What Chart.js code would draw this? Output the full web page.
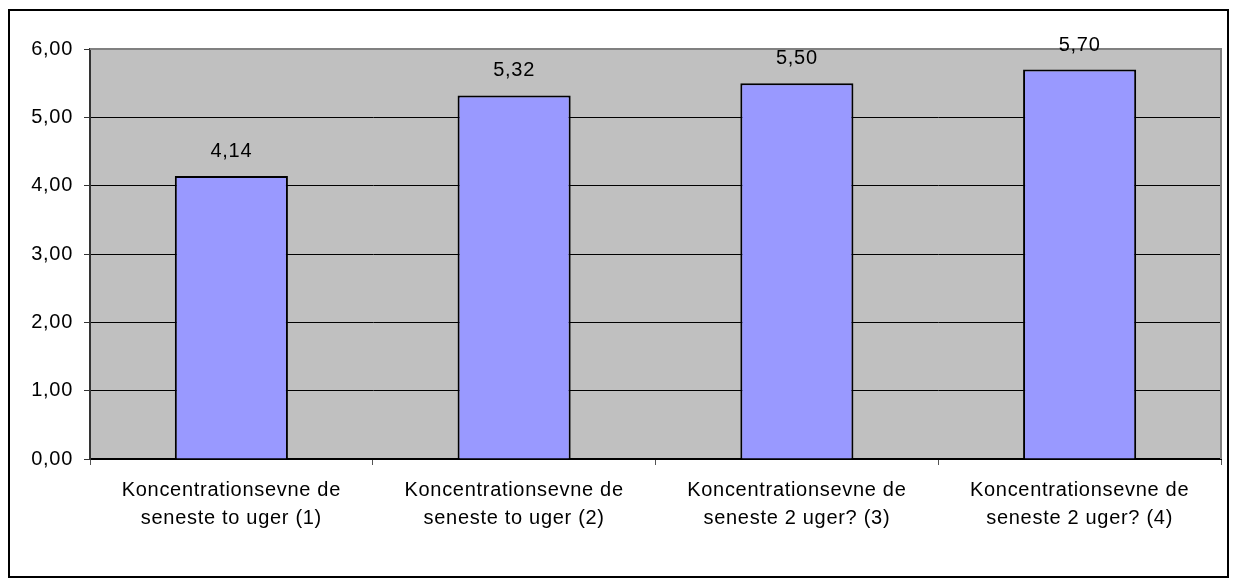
<!DOCTYPE html>
<html>
<head>
<meta charset="utf-8">
<script src="https://cdn.jsdelivr.net/npm/chart.js@4/dist/chart.umd.min.js"></script>
<style>
  html, body { margin: 0; padding: 0; background: #fff; overflow: hidden; }
  #wrap { position: relative; width: 1236px; height: 585px; }
</style>
</head>
<body>
<div id="wrap"><canvas id="chart"></canvas></div>
<script>
// data
const categories = [
  ["Koncentrationsevne de", "seneste to uger (1)"],
  ["Koncentrationsevne de", "seneste to uger (2)"],
  ["Koncentrationsevne de", "seneste 2 uger? (3)"],
  ["Koncentrationsevne de", "seneste 2 uger? (4)"],
];
const values = [4.14, 5.32, 5.5, 5.7];
const yTickLabels = ["0,00", "1,00", "2,00", "3,00", "4,00", "5,00", "6,00"];

const FONT = "'Liberation Sans', Arial, sans-serif";
const fmt = (v) => v.toFixed(2).replace(".", ",");

// grey plot area + frame around the whole chart
const plotArea = {
  id: "plotArea",
  beforeDraw(chart) {
    const { ctx, chartArea: a } = chart;
    ctx.letterSpacing = "0.7px";
    ctx.save();
    ctx.fillStyle = "#C0C0C0";
    ctx.fillRect(a.left, a.top, a.right - a.left, a.bottom - a.top);
    ctx.restore();
  },
  beforeDatasetsDraw(chart) {
    const { ctx, chartArea: a } = chart;
    ctx.save();
    ctx.strokeStyle = "#808080";
    ctx.lineWidth = 2;
    ctx.beginPath();
    ctx.moveTo(a.left, a.top);
    ctx.lineTo(a.right, a.top);
    ctx.lineTo(a.right, a.bottom);
    ctx.stroke();
    ctx.restore();
  },
  afterDraw(chart) {
    const { ctx } = chart;
    ctx.save();
    ctx.strokeStyle = "#000";
    ctx.lineWidth = 2;
    ctx.strokeRect(9, 10, 1219, 567);
    ctx.restore();
  },
};

// value labels above bars
const barLabels = {
  id: "barLabels",
  afterDatasetsDraw(chart) {
    const { ctx } = chart;
    const meta = chart.getDatasetMeta(0);
    ctx.save();
    ctx.font = "20px " + FONT;
    ctx.fillStyle = "#000";
    ctx.textAlign = "center";
    ctx.textBaseline = "alphabetic";
    meta.data.forEach((bar, i) => {
      ctx.fillText(fmt(values[i]), bar.x, bar.y - 19);
    });
    ctx.restore();
  },
};

new Chart(document.getElementById("chart"), {
  type: "bar",
  data: {
    labels: categories,
    datasets: [
      {
        data: values,
        backgroundColor: "#9999FF",
        borderColor: "#000",
        borderWidth: 2,
        borderSkipped: "start",
        categoryPercentage: 1,
        barPercentage: 0.40,
      },
    ],
  },
  options: {
    responsive: true,
    maintainAspectRatio: false,
    animation: false,
    layout: { padding: { left: 0, top: 49, right: 15, bottom: 0 } },
    plugins: {
      legend: { display: false },
      tooltip: { enabled: false },
    },
    scales: {
      x: {
        afterFit: (s) => { s.height = 126; },
        grid: {
          display: true,
          drawOnChartArea: false,
          drawTicks: true,
          tickLength: 6,
          tickColor: "#555",
        },
        border: { color: "#000", width: 2 },
        ticks: {
          color: "#000",
          padding: 11,
          maxRotation: 0,
          autoSkip: false,
          font: { family: FONT, size: 20, lineHeight: 1.4 },
        },
      },
      y: {
        min: 0,
        max: 6,
        afterFit: (s) => { s.width = 90; },
        grid: {
          color: (c) => (c.tick && c.tick.value === 6 ? "#808080" : "#000"),
          lineWidth: 1,
          tickLength: 6,
          tickColor: "#333",
        },
        border: { color: "#333", width: 2 },
        ticks: {
          stepSize: 1,
          color: "#000",
          padding: 11,
          font: { family: FONT, size: 20 },
          callback: (v, i) => yTickLabels[i],
        },
      },
    },
  },
  plugins: [plotArea, barLabels],
});
</script>
</body>
</html>
